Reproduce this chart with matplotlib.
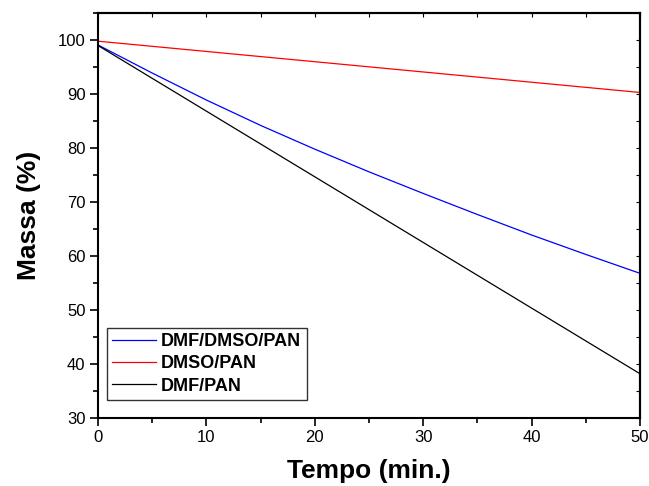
import matplotlib
matplotlib.use("Agg")
import matplotlib.pyplot as plt
from matplotlib.ticker import MultipleLocator

plt.rcParams['font.family'] = ['Liberation Sans', 'DejaVu Sans']

# leituras do grafico (a cada 5 min)
tempo = [0, 5, 10, 15, 20, 25, 30, 35, 40, 45, 50]
dmf_dmso_pan = [99.1, 93.9, 88.9, 84.2, 79.8, 75.6, 71.6, 67.7, 63.9, 60.3, 56.8]
tempo_lin = [0, 50]
dmso_pan = [99.8, 90.3]
dmf_pan = [99.0, 38.2]

fig = plt.figure(figsize=(6.49, 4.86), dpi=100)
ax = fig.add_axes([0.151, 0.140, 0.835, 0.833])

ax.plot(tempo, dmf_dmso_pan, color='blue', lw=0.9, label='DMF/DMSO/PAN')
ax.plot(tempo_lin, dmso_pan, color='red', lw=0.9, label='DMSO/PAN')
ax.plot(tempo_lin, dmf_pan, color='black', lw=0.9, label='DMF/PAN')

ax.set_xlim(0, 50)
ax.set_ylim(30, 105)
ax.xaxis.set_major_locator(MultipleLocator(10))
ax.xaxis.set_minor_locator(MultipleLocator(5))
ax.yaxis.set_major_locator(MultipleLocator(10))
ax.yaxis.set_minor_locator(MultipleLocator(5))
ax.tick_params(which='major', direction='out', length=6, width=1.2, labelsize=12, pad=3)
ax.tick_params(which='minor', direction='out', length=3.5, width=1.2)
for s in ax.spines.values():
    s.set_linewidth(1.5)

top = ax.secondary_xaxis('top')
top.xaxis.set_major_locator(MultipleLocator(10))
top.xaxis.set_minor_locator(MultipleLocator(5))
top.tick_params(which='both', direction='in', length=3, width=0.8, labeltop=False)
right = ax.secondary_yaxis('right')
right.yaxis.set_major_locator(MultipleLocator(10))
right.yaxis.set_minor_locator(MultipleLocator(5))
right.tick_params(which='both', direction='in', length=3, width=0.8, labelright=False)
top.spines['top'].set_linewidth(1.5)
right.spines['right'].set_linewidth(1.5)

ax.set_xlabel('Tempo (min.)', fontsize=19, fontweight='bold', labelpad=10)
ax.set_ylabel('Massa (%)', fontsize=19, fontweight='bold', labelpad=12)

leg = ax.legend(loc='lower left', bbox_to_anchor=(0.01, 0.035),
                prop={'weight': 'bold', 'size': 13}, frameon=True, fancybox=False,
                edgecolor='black', handlelength=2.4, borderpad=0.3, labelspacing=0.3,
                handletextpad=0.3, borderaxespad=0.2)
leg.get_frame().set_linewidth(1.0)

fig.savefig('out.png', dpi=100)
